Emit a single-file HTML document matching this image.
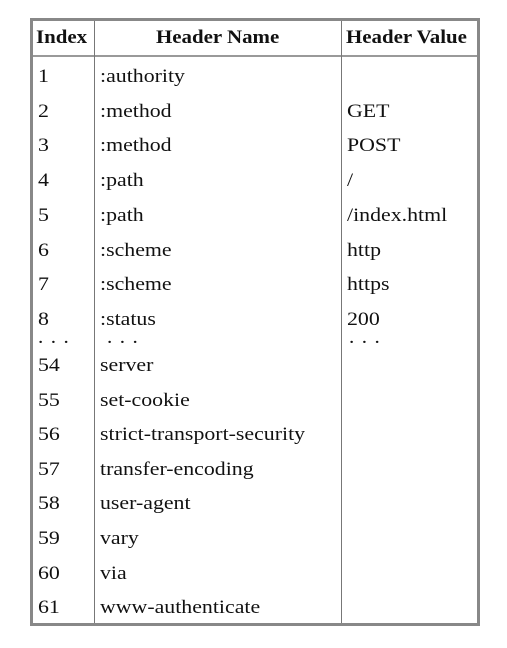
<!DOCTYPE html>
<html><head><style>
body{margin:0;width:507px;height:648px;background:#fff;position:relative;font-family:"Liberation Serif",serif;color:#111;overflow:hidden}
.b{position:absolute;background:#888}
.t{position:absolute;font-size:19px;line-height:20px;white-space:nowrap;transform:scaleX(1.15);transform-origin:left center}
.h{font-weight:bold;transform:scaleX(1.1)}
</style></head><body>
<div class="b" style="left:30px;top:18px;width:450px;height:3px"></div>
<div class="b" style="left:30px;top:623px;width:450px;height:3px"></div>
<div class="b" style="left:30px;top:18px;width:3px;height:608px"></div>
<div class="b" style="left:477px;top:18px;width:3px;height:608px"></div>
<div class="b" style="left:33px;top:55px;width:444px;height:2px;background:#999"></div>
<div class="b" style="left:94px;top:21px;width:1px;height:602px;background:#777"></div>
<div class="b" style="left:341px;top:21px;width:1px;height:602px;background:#777"></div>
<div class="t h" style="left:36px;top:28px">Index</div>
<div class="t h" style="left:156px;top:28px">Header Name</div>
<div class="t h" style="left:346px;top:28px">Header Value</div>
<div id="rows"></div>
<script>
var r=[["1",":authority",""],["2",":method","GET"],["3",":method","POST"],["4",":path","/"],["5",":path","/index.html"],["6",":scheme","http"],["7",":scheme","https"],["8",":status","200"]];
var r2=[["54","server"],["55","set-cookie"],["56","strict-transport-security"],["57","transfer-encoding"],["58","user-agent"],["59","vary"],["60","via"],["61","www-authenticate"]];
var h="";
function t(x,y,s){h+='<div class="t" style="left:'+x+'px;top:'+y+'px">'+s+'</div>';}
r.forEach(function(a,i){var y=67+i*34.7;t(38,y,a[0]);t(100,y,a[1]);t(347,y,a[2]);});
t(37,333,"· · ·");t(106,333,"· · ·");t(348,333,"· · ·");
r2.forEach(function(a,i){var y=356+i*34.6;t(38,y,a[0]);t(100,y,a[1]);});
document.getElementById("rows").innerHTML=h;
</script>
</body></html>
